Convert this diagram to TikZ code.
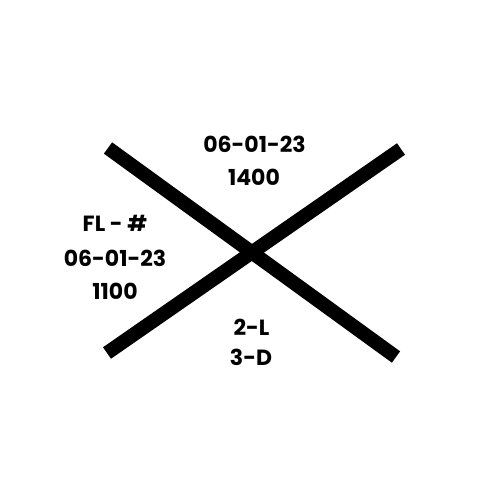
\documentclass[tikz,border=0pt]{standalone}
\usepackage{fontspec}
\setmainfont{Poppins}
\begin{document}
\begin{tikzpicture}[x=1pt,y=-1pt,
  bar/.style={line width=14pt,line cap=butt,black},
  lbl/.style={inner sep=0pt,font=\fontsize{22}{26}\selectfont\bfseries}]
\useasboundingbox[fill=white] (0,0) rectangle (500,500);
\coordinate (a1) at (108,148);
\coordinate (a2) at (396,357);
\coordinate (b1) at (107,353);
\coordinate (b2) at (401,149);
\draw[bar] (a1) -- (a2);
\draw[bar] (b1) -- (b2);
\node[lbl] (t1) at (254.5,144) {06-01-23};
\node[lbl] (t2) at (254,177.5) {1400};
\node[lbl] (l1) at (115,223) {FL - \#};
\node[lbl] (l2) at (115,258) {06-01-23};
\node[lbl] (l3) at (115,291) {1100};
\node[lbl] (b1t) at (251.5,327) {2-L};
\node[lbl] (b2t) at (251,357) {3-D};
\end{tikzpicture}
\end{document}
